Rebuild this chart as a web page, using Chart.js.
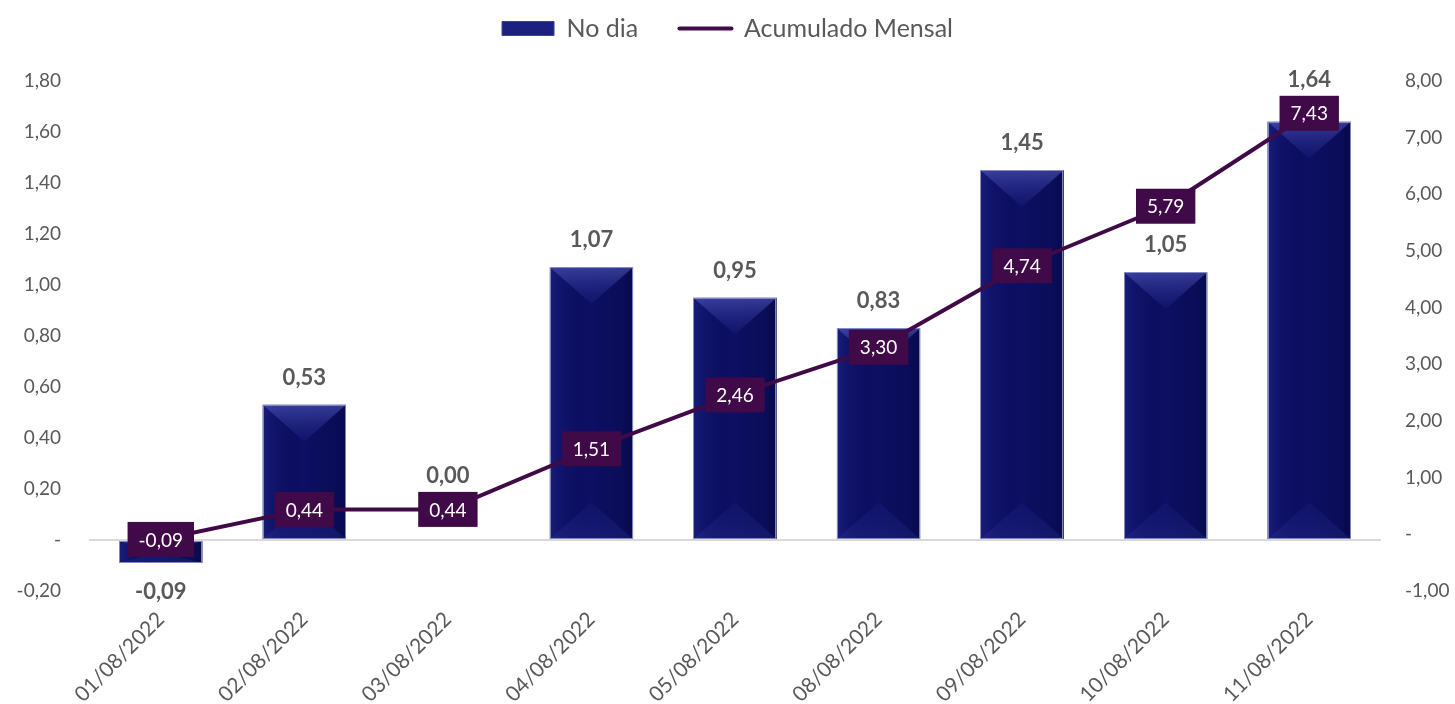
<!DOCTYPE html>
<html>
<head>
<meta charset="utf-8">
<script src="https://cdn.jsdelivr.net/npm/chart.js@4.4.1/dist/chart.umd.min.js"></script>
<style>
html,body{margin:0;padding:0;background:#fff;}
#wrap{width:1455px;height:704px;position:relative;}
</style>
</head>
<body>
<div id="wrap"><canvas id="c" width="1455" height="704"></canvas></div>
<script>
// ---- data ----
const categories = ['01/08/2022','02/08/2022','03/08/2022','04/08/2022','05/08/2022','08/08/2022','09/08/2022','10/08/2022','11/08/2022'];
const noDia = [-0.09, 0.53, 0.00, 1.07, 0.95, 0.83, 1.45, 1.05, 1.64];
const acumulado = [-0.09, 0.44, 0.44, 1.51, 2.46, 3.30, 4.74, 5.79, 7.43];
const leftTicks = [-0.2, 1.8, 0.2];   // min, max, step
const rightTicks = [-1, 8, 1];        // min, max, step
const seriesNames = ['No dia', 'Acumulado Mensal'];

const FONT = 'Lato, "Open Sans", sans-serif';
const GRAY = '#595959';
const BAR = '#0c0f63';
const LINE = '#3f0a46';

function fmt(v){
  if (Math.abs(v) < 1e-9) return '-';
  return v.toFixed(2).replace('.', ',');
}
function fmtVal(v){ return v.toFixed(2).replace('.', ','); }

// bevel / shading overlay for bars (uses library element geometry)
const bevelPlugin = {
  id: 'bevel',
  afterDatasetDraw(chart, args){
    if (args.index !== 1) return;
    const ctx = chart.ctx;
    args.meta.data.forEach(el => {
      const p = el.getProps(['x','y','base','width'], true);
      const l = p.x - p.width/2, r = p.x + p.width/2;
      const top = Math.min(p.y, p.base), bot = Math.max(p.y, p.base);
      const h = bot - top;
      if (h < 1) return;
      ctx.save();
      ctx.beginPath(); ctx.rect(l, top, r-l, h); ctx.clip();
      const g = ctx.createLinearGradient(l, 0, r, 0);
      g.addColorStop(0, 'rgba(50,56,160,0.35)');
      g.addColorStop(0.15, 'rgba(40,46,150,0.12)');
      g.addColorStop(0.5, 'rgba(0,0,0,0)');
      g.addColorStop(0.85, 'rgba(0,0,30,0.15)');
      g.addColorStop(1, 'rgba(0,0,30,0.35)');
      ctx.fillStyle = g; ctx.fillRect(l, top, r-l, h);
      const d = Math.min(p.width*0.44, h/2);
      const tg = ctx.createLinearGradient(0, top, 0, top + d);
      tg.addColorStop(0, 'rgba(90,98,200,0.55)');
      tg.addColorStop(1, 'rgba(50,56,165,0.12)');
      ctx.fillStyle = tg;
      ctx.beginPath(); ctx.moveTo(l, top); ctx.lineTo(r, top); ctx.lineTo(p.x, top + d); ctx.closePath(); ctx.fill();
      const bd = Math.min(p.width*0.44, h/2);
      const bg = ctx.createLinearGradient(0, bot - bd, 0, bot);
      bg.addColorStop(0, 'rgba(50,56,165,0.10)');
      bg.addColorStop(1, 'rgba(50,56,165,0.28)');
      ctx.fillStyle = bg;
      ctx.beginPath(); ctx.moveTo(l, bot); ctx.lineTo(r, bot); ctx.lineTo(p.x, bot - bd); ctx.closePath(); ctx.fill();
      ctx.restore();
      ctx.save();
      ctx.strokeStyle = 'rgba(140,146,200,0.9)'; ctx.lineWidth = 1;
      ctx.strokeRect(Math.round(l)+0.5, Math.round(top)+0.5, Math.round(r-l)-1, Math.round(h)-1);
      ctx.restore();
    });
  }
};

// value labels
const labelPlugin = {
  id: 'valueLabels',
  afterDatasetsDraw(chart){
    const ctx = chart.ctx;
    const lineMeta = chart.getDatasetMeta(0);
    const barMeta = chart.getDatasetMeta(1);
    const boxH = 35, padX = 11;
    const boxes = [];
    ctx.save();
    ctx.font = '19px ' + FONT;
    ctx.textAlign = 'center'; ctx.textBaseline = 'middle';
    lineMeta.data.forEach((pt, i) => {
      const t = fmtVal(acumulado[i]);
      const w = ctx.measureText(t).width + padX*2;
      const cx = pt.x, cy = pt.y;
      boxes.push({top: cy - boxH/2, bot: cy + boxH/2});
      ctx.fillStyle = '#3f0a47';
      ctx.fillRect(cx - w/2, cy - boxH/2, w, boxH);
      ctx.fillStyle = '#ffffff';
      ctx.fillText(t, cx, cy + 1);
    });
    ctx.restore();
    ctx.save();
    ctx.font = 'bold 22px ' + FONT;
    ctx.textAlign = 'center'; ctx.textBaseline = 'middle';
    ctx.fillStyle = GRAY;
    barMeta.data.forEach((el, i) => {
      const v = noDia[i];
      let y;
      if (v < 0) y = el.y + 29;
      else {
        y = el.y - 27;
        const b = boxes[i];
        if (y + 12 > b.top && y - 12 < b.bot) y = b.top - 16;
      }
      ctx.fillText(fmtVal(v), el.x, y);
    });
    ctx.restore();
  }
};

const legendSize = {
  id: 'legendSize',
  beforeLayout(chart){
    const lg = chart.legend;
    if (lg && !lg._patched){
      const f = lg.fit;
      lg.fit = function(){ f.call(this); this.height = 75; };
      lg._patched = true;
    }
  }
};

new Chart(document.getElementById('c'), {
  data: {
    labels: categories,
    datasets: [
      {
        type: 'line', label: seriesNames[1], data: acumulado, yAxisID: 'y1',
        borderColor: LINE, backgroundColor: LINE, borderWidth: 4,
        pointRadius: 0, borderCapStyle: 'round', borderJoinStyle: 'round',
        pointStyle: 'line', order: 0
      },
      {
        type: 'bar', label: seriesNames[0], data: noDia, yAxisID: 'y',
        backgroundColor: BAR, borderWidth: 0,
        categoryPercentage: 1, barPercentage: 0.58, pointStyle: 'rect', order: 1
      }
    ]
  },
  options: {
    responsive: false, animation: false,
    layout: { padding: { top: 6, left: 0, right: 0, bottom: 0 } },
    plugins: {
      tooltip: { enabled: false },
      legend: {
        position: 'top',
        labels: {
          usePointStyle: true, pointStyleWidth: 52, boxHeight: 14,
          padding: 10, color: GRAY, font: { family: FONT, size: 25 },
          sort: (a, b) => b.datasetIndex - a.datasetIndex,
          generateLabels(chart){
            const items = Chart.defaults.plugins.legend.labels.generateLabels(chart);
            items.forEach(it => {
              if (it.datasetIndex === 1) { it.text = seriesNames[0] + '\u2003\u2002'; it.fillStyle = '#1c2080'; it.strokeStyle = '#3a3f9a'; it.lineWidth = 1; }
              else { it.lineWidth = 4; it.lineCap = 'round'; it.strokeStyle = LINE; }
            });
            return items;
          }
        }
      }
    },
    scales: {
      x: {
        grid: { display: false }, border: { display: false },
        ticks: { color: GRAY, font: { family: FONT, size: 21 }, minRotation: 45, maxRotation: 45, padding: 8 },
        afterFit(s){ s.height = 113; }
      },
      y: {
        position: 'left', min: leftTicks[0], max: leftTicks[1],
        border: { display: false },
        grid: { drawTicks: false, lineWidth: 2, color: c => (c.tick && Math.abs(c.tick.value) < 1e-9) ? '#d9d9d9' : 'rgba(0,0,0,0)' },
        ticks: { stepSize: leftTicks[2], color: GRAY, font: { family: FONT, size: 19 }, padding: 28, callback: v => fmt(v) },
        afterFit(s){ s.width = 89; }
      },
      y1: {
        position: 'right', min: rightTicks[0], max: rightTicks[1],
        border: { display: false }, grid: { display: false, drawTicks: false },
        ticks: { stepSize: rightTicks[2], color: GRAY, font: { family: FONT, size: 19 }, padding: 24, callback: v => fmt(v) },
        afterFit(s){ s.width = 74; }
      }
    }
  },
  plugins: [legendSize, bevelPlugin, labelPlugin]
});
</script>
</body>
</html>
